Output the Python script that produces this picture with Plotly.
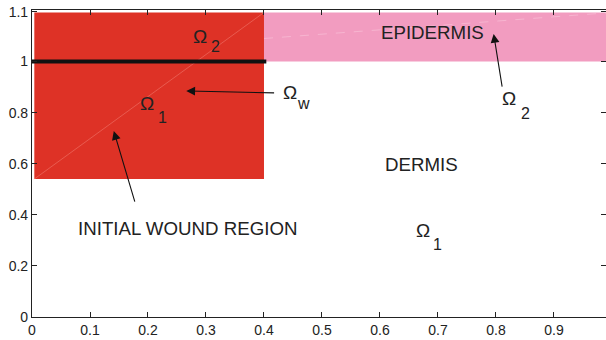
import plotly.graph_objects as go

# ---- data ----
wound_x = [0.004, 0.4]          # initial wound region, x extent
wound_y = [0.54, 1.192]         # initial wound region, y extent
epi_x = [0.4, 1.0]              # epidermis band, x extent
epi_y = [1.0, 1.192]            # epidermis band, y extent
interface_x = [0.0, 0.404]      # wound boundary line Omega_w
interface_y = [1.0, 1.0]
x_ticks = [0, 0.1, 0.2, 0.3, 0.4, 0.5, 0.6, 0.7, 0.8, 0.9, 1.0]
x_ticklabels = ["0", "0.1", "0.2", "0.3", "0.4", "0.5", "0.6", "0.7", "0.8", "0.9", "1"]
y_ticks = [0, 0.2, 0.4, 0.6, 0.8, 1.0, 1.194]
y_ticklabels = ["0", "0.2", "0.4", "0.6", "0.8", "1", "1.1"]

RED = "rgb(222,50,38)"
PINK = "rgb(242,156,192)"
TXT = "#222222"
FONT = "Liberation Sans, Arial, Helvetica, sans-serif"

def rect(xs, ys):
    return [xs[0], xs[1], xs[1], xs[0], xs[0]], [ys[0], ys[0], ys[1], ys[1], ys[0]]

fig = go.Figure()
ex, ey = rect(epi_x, epi_y)
fig.add_trace(go.Scatter(x=ex, y=ey, fill="toself", fillcolor=PINK, mode="lines",
                         line=dict(width=0, color=PINK), hoverinfo="skip", showlegend=False))
wx, wy = rect(wound_x, wound_y)
fig.add_trace(go.Scatter(x=wx, y=wy, fill="toself", fillcolor=RED, mode="lines",
                         line=dict(width=0, color=RED), hoverinfo="skip", showlegend=False))
# faint triangulation seams of the patches
fig.add_trace(go.Scatter(x=[wound_x[0], wound_x[1]], y=[wound_y[0], wound_y[1]], mode="lines",
                         line=dict(width=0.7, color="rgba(255,180,170,0.45)"),
                         hoverinfo="skip", showlegend=False))
fig.add_trace(go.Scatter(x=[epi_x[0], epi_x[1]], y=[1.09, epi_y[1]], mode="lines",
                         line=dict(width=0.6, color="rgba(255,230,240,0.55)", dash="dash"),
                         hoverinfo="skip", showlegend=False))
fig.add_trace(go.Scatter(x=interface_x, y=interface_y, mode="lines",
                         line=dict(width=4, color="#111111"), hoverinfo="skip", showlegend=False))

def txt(x, y, s, size):
    fig.add_annotation(x=x, y=y, xref="x", yref="y", text=s, showarrow=False,
                       font=dict(family=FONT, size=size, color=TXT), xanchor="center", yanchor="middle")

def arrow(x0, y0, x1, y1):
    fig.add_annotation(x=x1, y=y1, ax=x0, ay=y0, xref="x", yref="y", axref="x", ayref="y",
                       text="", showarrow=True, arrowhead=2, arrowsize=1.6, arrowwidth=1.1,
                       arrowcolor="#111111")

# Omega labels
txt(0.29, 1.096, "Ω", 19); txt(0.316, 1.057, "2", 16)
txt(0.199, 0.834, "Ω", 19); txt(0.225, 0.779, "1", 16)
txt(0.444, 0.877, "Ω", 19); txt(0.468, 0.836, "w", 16)
txt(0.823, 0.857, "Ω", 19); txt(0.851, 0.798, "2", 16)
txt(0.675, 0.337, "Ω", 19); txt(0.699, 0.282, "1", 16)
# region names
txt(0.268, 0.348, "INITIAL WOUND REGION", 18.7)
txt(0.690, 1.115, "EPIDERMIS", 18.7)
txt(0.672, 0.595, "DERMIS", 18.7)
# arrows (tail -> head)
arrow(0.420, 0.877, 0.266, 0.885)
arrow(0.178, 0.446, 0.141, 0.728)
arrow(0.811, 0.896, 0.796, 1.108)

axis_common = dict(showgrid=False, zeroline=False, showline=True, linecolor="#222222",
                   linewidth=1.2, mirror="ticks", ticks="inside", ticklen=5, tickcolor="#222222",
                   tickfont=dict(family=FONT, size=14, color=TXT))
fig.update_xaxes(range=[0, 0.9897], tickvals=x_ticks, ticktext=x_ticklabels, **axis_common)
fig.update_yaxes(range=[0, 1.2016], tickvals=y_ticks, ticktext=y_ticklabels, **axis_common)
fig.update_layout(width=606, height=340, margin=dict(l=32, r=0, t=10, b=23),
                  paper_bgcolor="white", plot_bgcolor="white")
fig.write_html("out.html")
